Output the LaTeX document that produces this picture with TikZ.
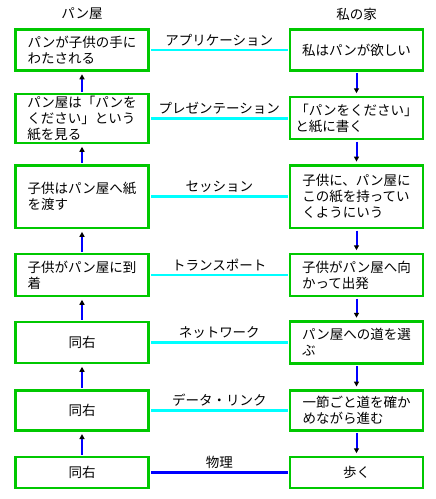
\documentclass[tikz,border=0pt]{standalone}
\usepackage{fontspec}
\setmainfont{Noto Sans CJK JP}
\usetikzlibrary{arrows.meta,calc}
\definecolor{boxgreen}{RGB}{0,200,0}
\definecolor{linecyan}{RGB}{0,255,255}
\definecolor{lineblue}{RGB}{0,0,255}
\begin{document}
\begin{tikzpicture}[x=1pt,y=-1pt,
  box/.style={draw=boxgreen, line width=2.5pt, minimum width=133pt, inner sep=0pt, align=left,
    font=\fontsize{13.5}{16}\selectfont},
  lab/.style={inner sep=0pt, font=\fontsize{13.5}{16}\selectfont},
  layer/.style={draw=linecyan, line width=2.5pt, shorten <=1.25pt, shorten >=1.25pt},
  phys/.style={draw=lineblue, line width=2.5pt, shorten <=1.25pt, shorten >=1.25pt},
  flow/.style={draw=lineblue, line width=2pt, shorten <=1.25pt, shorten >=2.5pt,
    -{Triangle[length=5pt,width=5pt,color=black]}}]
\useasboundingbox (0,0) rectangle (436,499);
% titles
\node[lab] (tl) at (82,14) {パン屋};
\node[lab] (tr) at (356.5,14) {私の家};
% left column
\node[box, minimum height=41pt] (L1) at (82,50) {パンが子供の手に\\わたされる};
\node[box, minimum height=49pt] (L2) at (82,118.5) {パン屋は「パンを\\ください」という\\紙を見る};
\node[box, minimum height=62.7pt] (L3) at (82,196.7) {子供はパン屋へ紙\\を渡す};
\node[box, minimum height=42pt] (L4) at (82,275) {子供がパン屋に到\\着};
\node[box, minimum height=41pt] (L5) at (82,342.5) {同右};
\node[box, minimum height=40pt] (L6) at (82,410.3) {同右};
\node[box, minimum height=31pt] (L7) at (82,472.5) {同右};
% right column
\node[box, minimum height=41pt] (R1) at (356.5,50) {私はパンが欲しい};
\node[box, minimum height=42pt] (R2) at (356.5,118) {「パンをください」\\と紙に書く};
\node[box, minimum height=62.7pt] (R3) at (356.5,196.7) {子供に、パン屋に\\この紙を持ってい\\くようにいう};
\node[box, minimum height=42pt] (R4) at (356.5,275) {子供がパン屋へ向\\かって出発};
\node[box, minimum height=42pt] (R5) at (356.5,342.5) {パン屋への道を選\\ぶ};
\node[box, minimum height=40pt] (R6) at (356.5,410.3) {一節ごと道を確か\\めながら進む};
\node[box, minimum height=31pt] (R7) at (356.5,472.5) {歩く};
% layer connectors
\draw[layer] (L1.east) -- (R1.west);
\draw[layer] (L2.east) -- (L2.east -| R2.west);
\draw[layer] (L3.east) -- (R3.west);
\draw[layer] (L4.east) -- (R4.west);
\draw[layer] (L5.east) -- (R5.west);
\draw[layer] (L6.east) -- (R6.west);
\draw[phys] (L7.east) -- (R7.west);
% labels
\node[lab, above=4pt] (n1) at ($(L1.east)!0.5!(R1.west)$) {アプリケーション};
\node[lab, above=4pt] (n2) at ($(L2.east)!0.5!(L2.east -| R2.west)$) {プレゼンテーション};
\node[lab, above=4pt] (n3) at ($(L3.east)!0.5!(R3.west)$) {セッション};
\node[lab, above=4pt] (n4) at ($(L4.east)!0.5!(R4.west)$) {トランスポート};
\node[lab, above=4pt] (n5) at ($(L5.east)!0.5!(R5.west)$) {ネットワーク};
\node[lab, above=4pt] (n6) at ($(L6.east)!0.5!(R6.west)$) {データ・リンク};
\node[lab, above=4pt] (n7) at ($(L7.east)!0.5!(R7.west)$) {物理};
% flow arrows: left goes up, right goes down
\draw[flow] (L7.north) -- (L6.south);
\draw[flow] (L6.north) -- (L5.south);
\draw[flow] (L5.north) -- (L4.south);
\draw[flow] (L4.north) -- (L3.south);
\draw[flow] (L3.north) -- (L2.south);
\draw[flow] (L2.north) -- (L1.south);
\draw[flow] (R1.south) -- (R2.north);
\draw[flow] (R2.south) -- (R3.north);
\draw[flow] (R3.south) -- (R4.north);
\draw[flow] (R4.south) -- (R5.north);
\draw[flow] (R5.south) -- (R6.north);
\draw[flow] (R6.south) -- (R7.north);
\end{tikzpicture}
\end{document}
